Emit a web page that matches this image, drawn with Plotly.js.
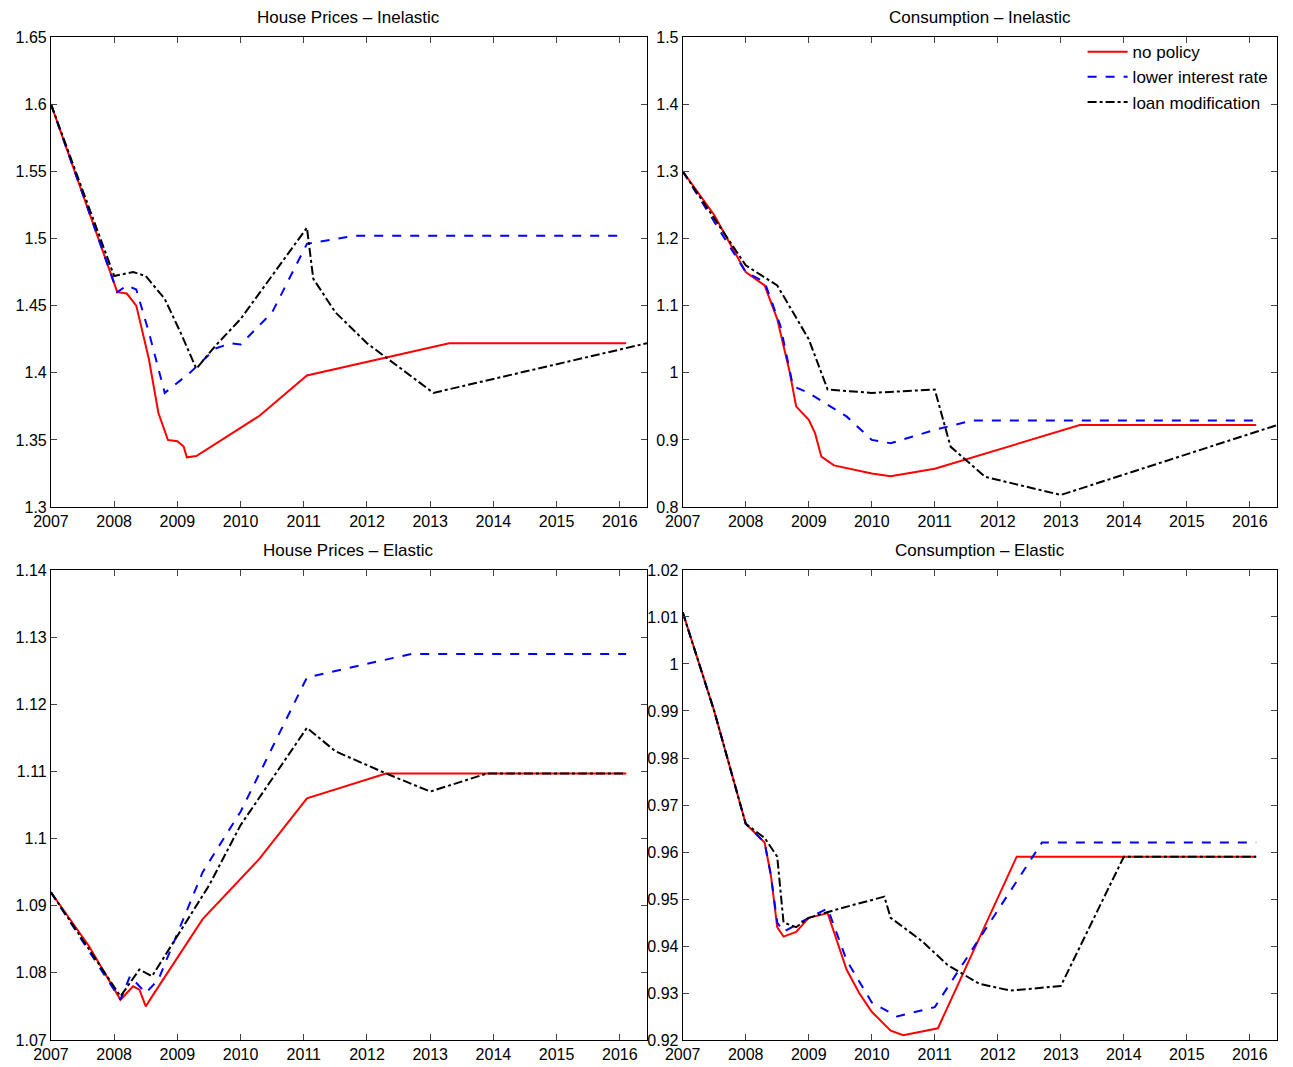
<!DOCTYPE html>
<html><head><meta charset="utf-8">
<script src="https://cdn.plot.ly/plotly-3.0.1.min.js"></script>
<style>body{margin:0}#c{width:1293px;height:1067px}</style>
</head><body><div id="c"></div>
<script>
// Panel 1: House Prices – Inelastic
const hpiRedX=[2007,2008.05,2008.2,2008.35,2008.55,2008.7,2008.85,2009,2009.1,2009.15,2009.3,2010.3,2011.05,2013.3,2016.1];
const hpiRedY=[1.6,1.46,1.459,1.45,1.41,1.37,1.35,1.349,1.345,1.337,1.338,1.368,1.398,1.422,1.422];
const hpiBlueX=[2007,2008.05,2008.2,2008.35,2008.55,2008.8,2009.2,2009.6,2009.85,2010,2010.5,2011.05,2011.8,2016.1];
const hpiBlueY=[1.6,1.46,1.465,1.462,1.43,1.385,1.40,1.418,1.422,1.421,1.445,1.496,1.502,1.502];
const hpiBlackX=[2007,2008,2008.3,2008.5,2008.8,2009.05,2009.3,2009.6,2010,2011.05,2011.15,2011.5,2012,2013.05,2016.43];
const hpiBlackY=[1.6,1.472,1.475,1.472,1.455,1.43,1.403,1.42,1.44,1.508,1.47,1.445,1.422,1.385,1.422];
// Panel 2: Consumption – Inelastic
const ciRedX=[2007,2007.5,2008,2008.3,2008.5,2008.7,2008.8,2009,2009.1,2009.2,2009.4,2010,2010.3,2011,2013.3,2016.1];
const ciRedY=[1.3,1.235,1.15,1.13,1.08,1.0,0.95,0.93,0.91,0.875,0.862,0.85,0.846,0.857,0.922,0.922];
const ciBlueX=[2007,2008,2008.3,2008.55,2008.75,2009,2009.6,2010,2010.3,2011,2011.6,2016.1];
const ciBlueY=[1.3,1.15,1.135,1.07,0.98,0.97,0.935,0.9,0.895,0.915,0.929,0.929];
const ciBlackX=[2007,2008,2008.5,2009,2009.3,2010,2011,2011.25,2011.8,2013,2016.43];
const ciBlackY=[1.3,1.16,1.13,1.05,0.975,0.97,0.975,0.89,0.845,0.818,0.922];
// Panel 3: House Prices – Elastic
const heRedX=[2007,2007.6,2008.1,2008.3,2008.4,2008.5,2008.6,2009.4,2010.3,2011.05,2012.3,2016.1];
const heRedY=[1.092,1.084,1.076,1.078,1.0775,1.075,1.0765,1.088,1.097,1.106,1.1097,1.1097];
const heBlueX=[2007,2008.1,2008.25,2008.5,2008.7,2009.4,2010,2011.05,2012.7,2016.1];
const heBlueY=[1.092,1.076,1.0795,1.077,1.079,1.095,1.104,1.124,1.1275,1.1275];
const heBlackX=[2007,2008.1,2008.4,2008.6,2009.5,2010,2011.05,2011.5,2012.3,2013,2013.9,2016.1];
const heBlackY=[1.092,1.0765,1.0805,1.0795,1.093,1.102,1.1165,1.113,1.1097,1.107,1.1097,1.1097];
// Panel 4: Consumption – Elastic
const ceRedX=[2007,2007.5,2008,2008.3,2008.4,2008.5,2008.6,2008.8,2009,2009.3,2009.6,2009.8,2010,2010.3,2010.5,2011.05,2012.3,2016.1];
const ceRedY=[1.011,0.99,0.966,0.962,0.955,0.944,0.942,0.943,0.946,0.947,0.935,0.93,0.926,0.922,0.921,0.9225,0.959,0.959];
const ceBlueX=[2007,2007.5,2008,2008.3,2008.4,2008.5,2008.6,2009,2009.3,2009.6,2010,2010.4,2010.7,2011,2012.7,2016.1];
const ceBlueY=[1.011,0.99,0.966,0.962,0.955,0.945,0.943,0.946,0.948,0.937,0.928,0.925,0.926,0.927,0.962,0.962];
const ceBlackX=[2007,2007.5,2008,2008.3,2008.5,2008.6,2008.8,2009,2009.5,2010.2,2010.3,2010.8,2011.2,2011.7,2012.2,2013,2014,2016.1];
const ceBlackY=[1.011,0.99,0.966,0.963,0.959,0.945,0.944,0.946,0.948,0.9505,0.946,0.941,0.936,0.932,0.9305,0.9315,0.959,0.959];

const names=['no policy','lower interest rate','loan modification'];
const styles=[{color:'#ff0000',dash:'solid'},{color:'#0000ff',dash:'dash'},{color:'#000000',dash:'dashdot'}];
const panels=[
 [[hpiRedX,hpiRedY],[hpiBlueX,hpiBlueY],[hpiBlackX,hpiBlackY]],
 [[ciRedX,ciRedY],[ciBlueX,ciBlueY],[ciBlackX,ciBlackY]],
 [[heRedX,heRedY],[heBlueX,heBlueY],[heBlackX,heBlackY]],
 [[ceRedX,ceRedY],[ceBlueX,ceBlueY],[ceBlackX,ceBlackY]]];
const titles=['House Prices – Inelastic','Consumption – Inelastic','House Prices – Elastic','Consumption – Elastic'];
const yr=[[1.3,1.65,0.05],[0.8,1.5,0.1],[1.07,1.14,0.01],[0.92,1.02,0.01]];
const xd=[[0.0394,0.5004],[0.528,0.9876]];
const yd=[[0.5248,0.9653],[0.0253,0.4658]];
const traces=[];const layout={width:1293,height:1067,margin:{l:0,r:0,t:0,b:0},paper_bgcolor:'#fff',plot_bgcolor:'#fff',
 font:{family:'Liberation Sans, Arial',size:16,color:'#000'},showlegend:true,
 legend:{x:0.985,y:0.968,xanchor:'right',yanchor:'top',bgcolor:'rgba(0,0,0,0)',font:{size:17},tracegroupgap:0,itemwidth:40,tracegroupgap:0},annotations:[]};
panels.forEach((p,i)=>{
 const s=i===0?'':String(i+1);
 p.forEach((d,j)=>traces.push({x:d[0],y:d[1],xaxis:'x'+s,yaxis:'y'+s,mode:'lines',name:names[j],showlegend:i===1,
  line:{color:styles[j].color,dash:styles[j].dash,width:2}}));
 const ax={domain:xd[i%2],range:[2007,2016.43],tickvals:[2007,2008,2009,2010,2011,2012,2013,2014,2015,2016],ticks:'inside',ticklen:6,
  mirror:'allticks',showline:true,linecolor:'#000',linewidth:1,showgrid:false,zeroline:false,anchor:'y'+s,tickfont:{size:16}};
 const ay={domain:yd[Math.floor(i/2)],range:[yr[i][0],yr[i][1]],dtick:yr[i][2],tick0:yr[i][0],ticks:'inside',ticklen:6,
  mirror:'allticks',showline:true,linecolor:'#000',linewidth:1,showgrid:false,zeroline:false,anchor:'x'+s,tickfont:{size:16}};
 layout['xaxis'+s]=ax;layout['yaxis'+s]=ay;
 layout.annotations.push({text:titles[i],xref:'paper',yref:'paper',x:(xd[i%2][0]+xd[i%2][1])/2,y:yd[Math.floor(i/2)][1],
  yanchor:'bottom',xanchor:'center',showarrow:false,font:{size:17},yshift:8});
});
Plotly.newPlot('c',traces,layout,{displayModeBar:false});
</script></body></html>
